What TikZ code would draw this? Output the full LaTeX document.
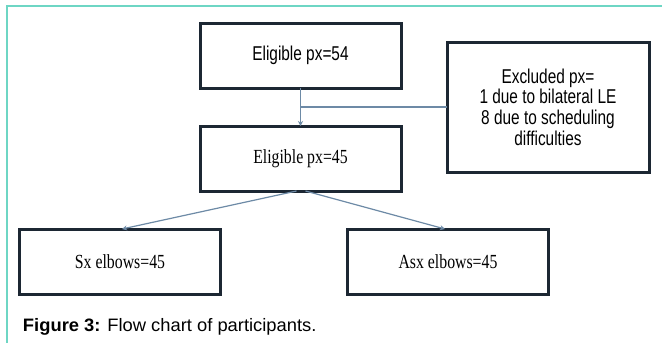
\documentclass[tikz,border=0pt]{standalone}
\usepackage{fontspec}
\usepackage{tikz}
\usetikzlibrary{arrows.meta}
\newfontfamily\narrowsans[FakeStretch=0.77]{Liberation Sans}
\newfontfamily\narrowserif[FakeStretch=0.79]{Liberation Serif}
\newfontfamily\capfont[FakeStretch=1.02]{Liberation Sans}
\definecolor{boxline}{RGB}{28,39,51}
\definecolor{arrowline}{RGB}{109,138,166}
\definecolor{frameline}{RGB}{110,214,196}
\tikzset{
    every node/.style={inner sep=0pt, outer sep=0pt}
}
\tikzset{
    flowbox/.style={rectangle, draw=boxline, line width=3pt, fill=white,
    	minimum width=201pt, minimum height=65pt, align=center},
    sanstext/.style={font=\narrowsans\fontsize{20}{20.7}\selectfont},
    seriftext/.style={font=\narrowserif\fontsize{20}{20.7}\selectfont},
    flowarrow/.style={draw=arrowline, line width=1.2pt,
    	-{Stealth[length=5pt,width=5pt]}},
    flowline/.style={draw=arrowline, line width=1.2pt}
}

\begin{document}
\begin{tikzpicture}[x=1pt, y=-1pt]
	\useasboundingbox[fill=white] (0,0) rectangle (662,343);
	\draw[frameline, line width=2pt] (7,343) -- (7,6) -- (662,6);

	\node (e54) [flowbox, sanstext] at (300.5,55.5) {Eligible px=54};
	\node (excl) [flowbox, sanstext, minimum width=202pt, minimum height=130pt]
		at (548,107) {Excluded px=\\1 due to bilateral LE\\8 due to scheduling\\difficulties};
	\node (e45) [flowbox, seriftext] at (300.5,158.5) {Eligible px=45};
	\node (sx) [flowbox, seriftext] at (120,261.5) {Sx elbows=45};
	\node (asx) [flowbox, seriftext] at (448,261.5) {Asx elbows=45};

	\draw[flowarrow] (e54) -- (e45);
	\draw[flowline] (excl.west) -- (excl.west -| e54.south);
	\draw[flowarrow] ([xshift=-4pt]e45.south) -- ([xshift=2pt]sx.north);
	\draw[flowarrow] ([xshift=5pt]e45.south) -- ([xshift=-3pt]asx.north);

	\node (caption) [anchor=base west, font=\capfont\fontsize{18}{20}\selectfont]
		at (23,331) {\textbf{Figure 3:} Flow chart of participants.};
\end{tikzpicture}
\end{document}
